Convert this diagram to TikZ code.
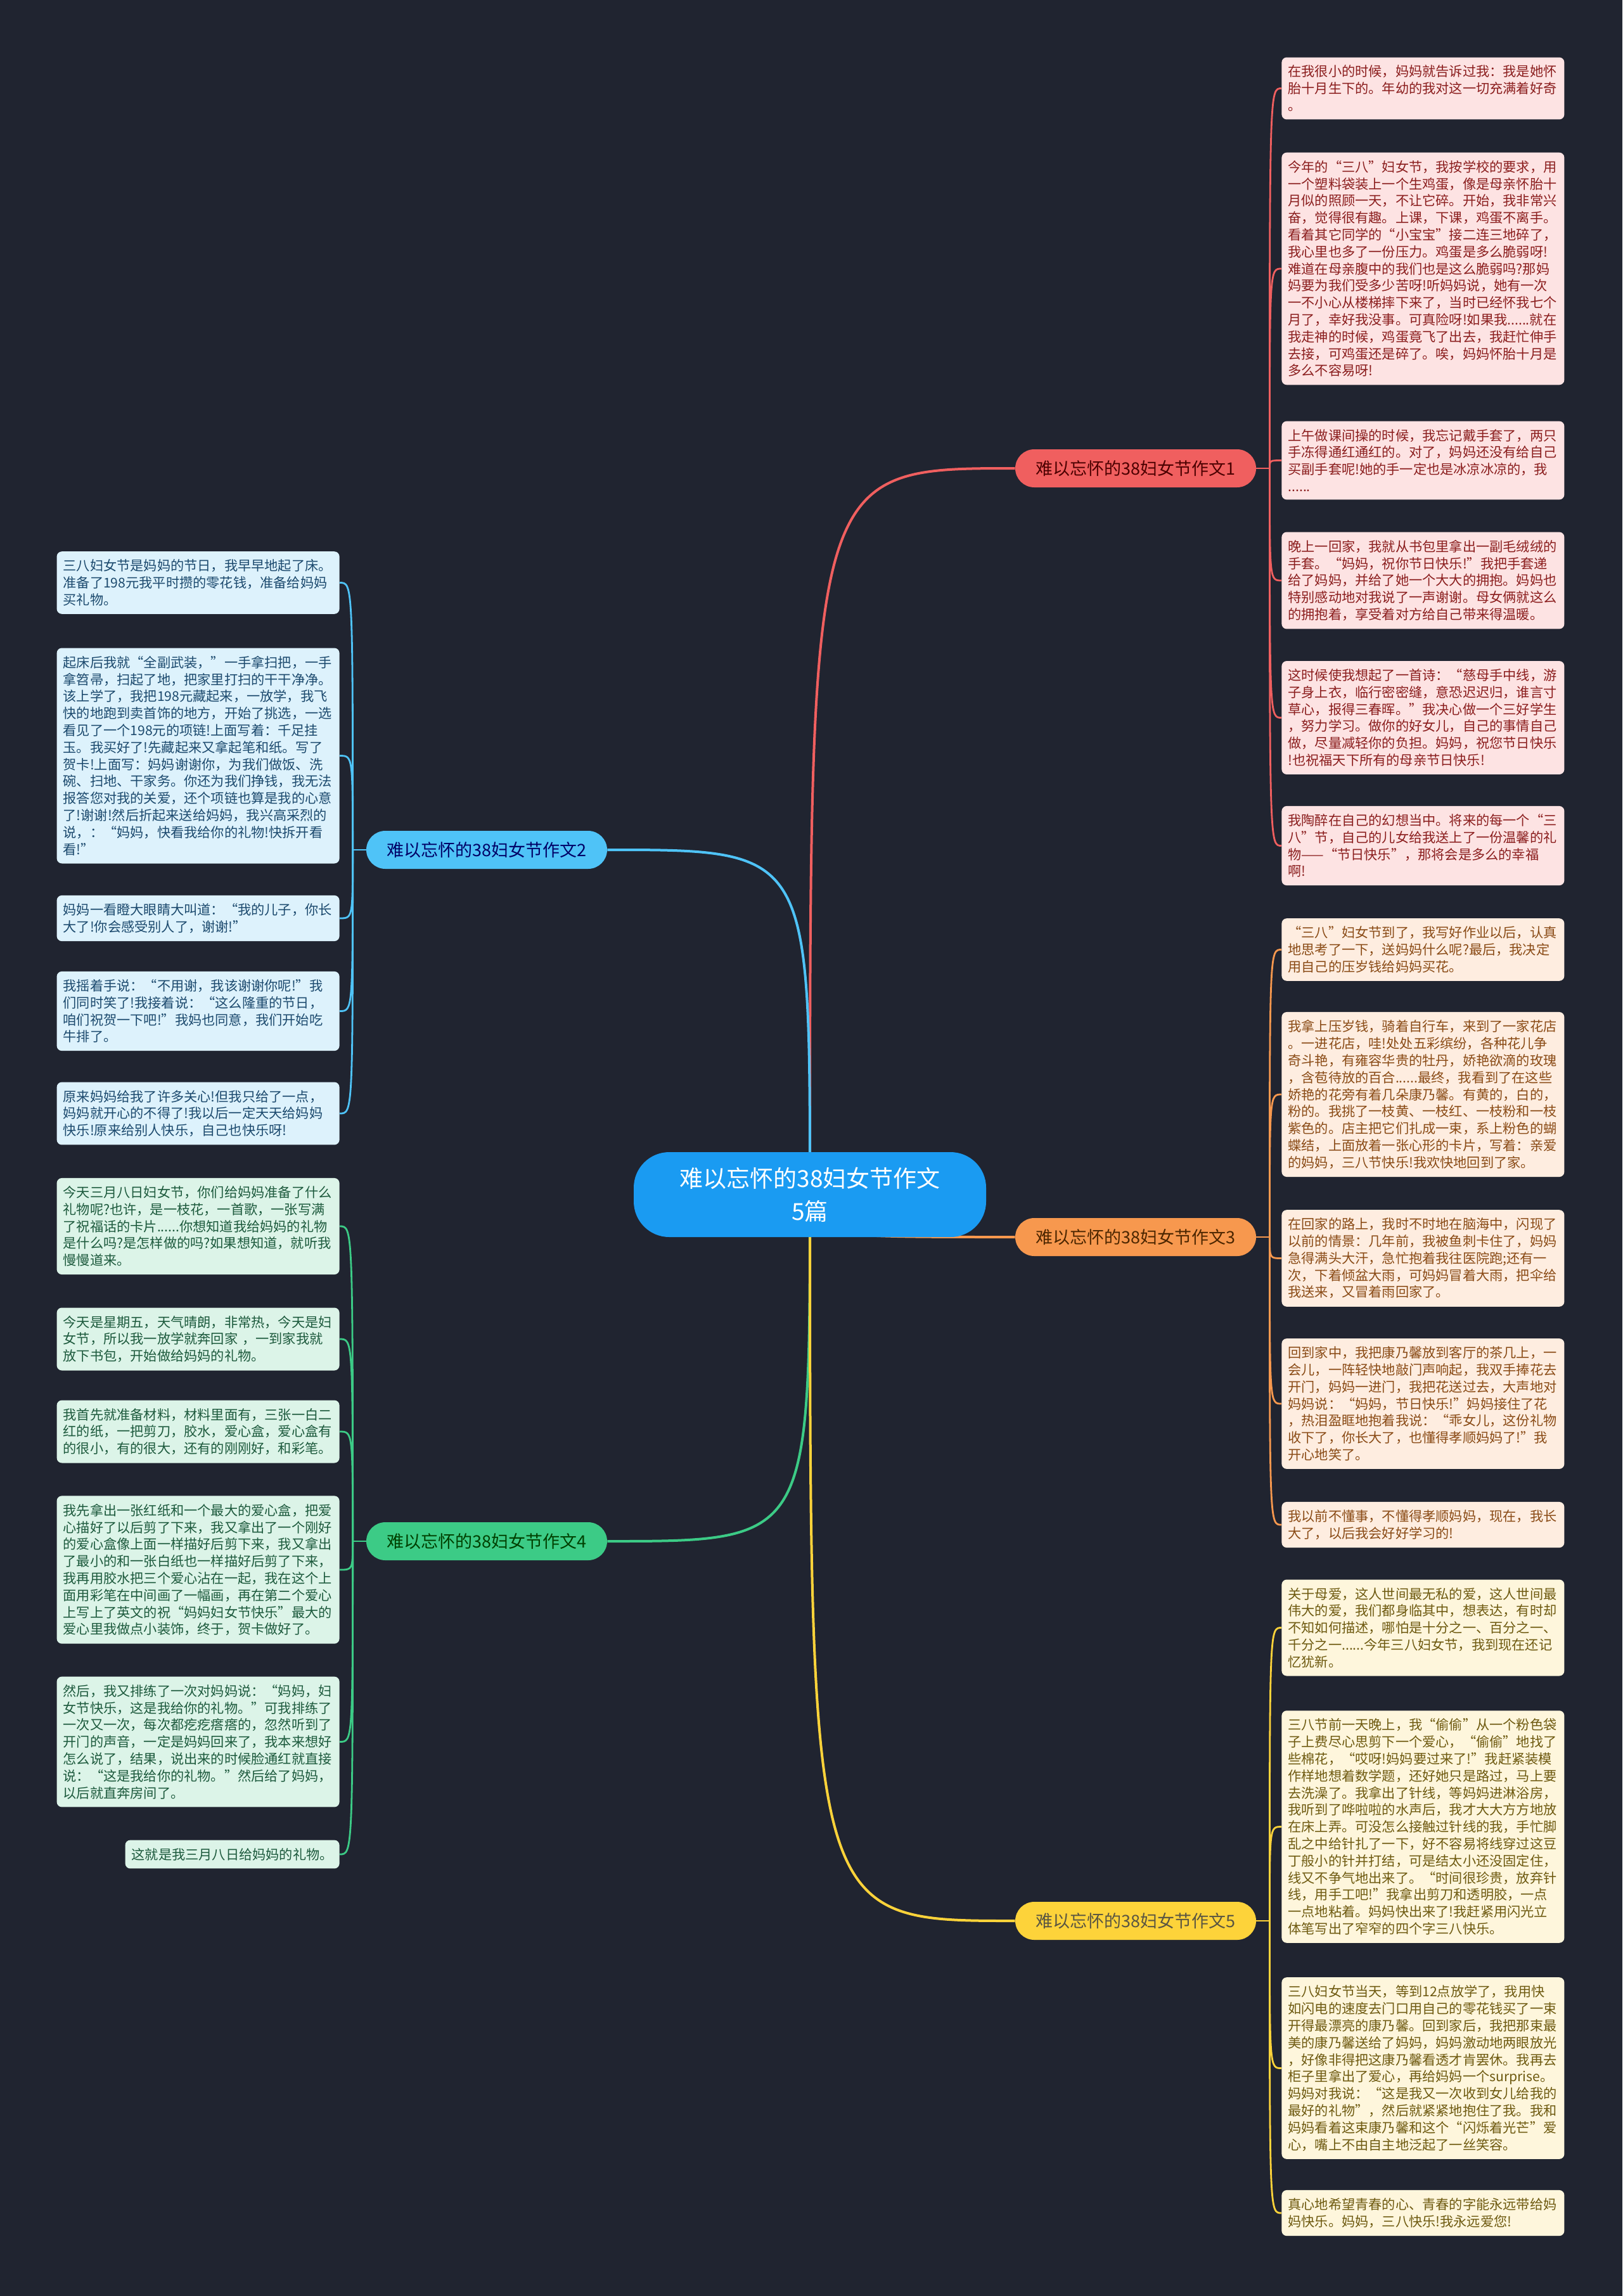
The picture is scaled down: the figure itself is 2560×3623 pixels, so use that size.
\documentclass[tikz,border=0pt]{standalone}
\usepackage{fontspec}
\setmainfont{Noto Sans CJK SC}
\usetikzlibrary{backgrounds}

\definecolor{bgdark}{HTML}{202430}
\definecolor{rootblue}{HTML}{1A9BF2}
\definecolor{redline}{HTML}{F05F5F}
\definecolor{blueline}{HTML}{4FC3F7}
\definecolor{orangeline}{HTML}{F7984E}
\definecolor{greenline}{HTML}{3CCB86}
\definecolor{yellowline}{HTML}{FDD33A}
\definecolor{redfill}{HTML}{FDE3E3}
\definecolor{redtext}{HTML}{8B1E1E}
\definecolor{bluefill}{HTML}{DDF2FC}
\definecolor{bluetext}{HTML}{1C4A6E}
\definecolor{orangefill}{HTML}{FEEDE0}
\definecolor{orangetext}{HTML}{8A4B16}
\definecolor{greenfill}{HTML}{DCF4E8}
\definecolor{greentext}{HTML}{1D5A3D}
\definecolor{yellowfill}{HTML}{FEF6DC}
\definecolor{yellowtext}{HTML}{6E5A10}

\tikzset{
  rootbox/.style={rectangle, rounded corners=28pt, fill=rootblue, text=white, align=center,
    minimum width=278pt, minimum height=67pt, font=\fontsize{18.5pt}{26pt}\selectfont},
  branchbox/.style={rectangle, rounded corners=15pt, minimum width=190pt, minimum height=30pt,
    inner sep=0pt, font=\fontsize{13.5pt}{16pt}\selectfont},
  leafshort/.style={rectangle, rounded corners=4pt, inner xsep=5pt, inner ysep=6.3pt,
    font=\fontsize{10.6pt}{13.4pt}\selectfont},
  leafbox/.style={leafshort, text width=213pt, align=left},
  redleaf/.style={fill=redfill, text=redtext},
  blueleaf/.style={fill=bluefill, text=bluetext},
  orangeleaf/.style={fill=orangefill, text=orangetext},
  greenleaf/.style={fill=greenfill, text=greentext},
  yellowleaf/.style={fill=yellowfill, text=yellowtext},
  trunk/.style={line width=2pt},
  twig/.style={line width=1.4pt}
}

\begin{document}
\begin{tikzpicture}[x=0.5pt, y=-0.5pt]
\useasboundingbox (0,0) rectangle (2560,3623);
\begin{pgfonlayer}{background}
\fill[bgdark] (0,0) rectangle (2560,3623);
\end{pgfonlayer}

% centre and branches
\node[rootbox] (root) at (1278,1885) {难以忘怀的38妇女节作文\\5篇};
\node[branchbox, fill=redline, text=red!30!black] (B1) at (1792,739) {难以忘怀的38妇女节作文1};
\node[branchbox, fill=blueline, text=blue!40!black] (B2) at (768,1341) {难以忘怀的38妇女节作文2};
\node[branchbox, fill=orangeline, text=orange!30!black] (B3) at (1792,1952) {难以忘怀的38妇女节作文3};
\node[branchbox, fill=greenline, text=green!25!black] (B4) at (768,2432) {难以忘怀的38妇女节作文4};
\node[branchbox, fill=yellowline, text=yellow!25!black] (B5) at (1792,3031) {难以忘怀的38妇女节作文5};

% branch 1
\node[leafbox, redleaf, anchor=west] (L1a) at (2022,139.5) {在我很小的时候，妈妈就告诉过我：我是她怀\\胎十月生下的。年幼的我对这一切充满着好奇\\。};
\node[leafbox, redleaf, anchor=west] (L1b) at (2022,424) {今年的“三八”妇女节，我按学校的要求，用\\一个塑料袋装上一个生鸡蛋，像是母亲怀胎十\\月似的照顾一天，不让它碎。开始，我非常兴\\奋，觉得很有趣。上课，下课，鸡蛋不离手。\\看着其它同学的“小宝宝”接二连三地碎了，\\我心里也多了一份压力。鸡蛋是多么脆弱呀!\\难道在母亲腹中的我们也是这么脆弱吗?那妈\\妈要为我们受多少苦呀!听妈妈说，她有一次\\一不小心从楼梯摔下来了，当时已经怀我七个\\月了，幸好我没事。可真险呀!如果我......就在\\我走神的时候，鸡蛋竟飞了出去，我赶忙伸手\\去接，可鸡蛋还是碎了。唉，妈妈怀胎十月是\\多么不容易呀!};
\node[leafbox, redleaf, anchor=west] (L1c) at (2022,726.5) {上午做课间操的时候，我忘记戴手套了，两只\\手冻得通红通红的。对了，妈妈还没有给自己\\买副手套呢!她的手一定也是冰凉冰凉的，我\\......};
\node[leafbox, redleaf, anchor=west] (L1d) at (2022,916) {晚上一回家，我就从书包里拿出一副毛绒绒的\\手套。“妈妈，祝你节日快乐!”我把手套递\\给了妈妈，并给了她一个大大的拥抱。妈妈也\\特别感动地对我说了一声谢谢。母女俩就这么\\的拥抱着，享受着对方给自己带来得温暖。};
\node[leafbox, redleaf, anchor=west] (L1e) at (2022,1132.5) {这时候使我想起了一首诗：“慈母手中线，游\\子身上衣，临行密密缝，意恐迟迟归，谁言寸\\草心，报得三春晖。”我决心做一个三好学生\\，努力学习。做你的好女儿，自己的事情自己\\做，尽量减轻你的负担。妈妈，祝您节日快乐\\!也祝福天下所有的母亲节日快乐!};
\node[leafbox, redleaf, anchor=west] (L1f) at (2022,1334.5) {我陶醉在自己的幻想当中。将来的每一个“三\\八”节，自己的儿女给我送上了一份温馨的礼\\物——“节日快乐”，那将会是多么的幸福\\啊!};

% branch 3
\node[leafbox, orangeleaf, anchor=west] (L3a) at (2022,1498.5) {“三八”妇女节到了，我写好作业以后，认真\\地思考了一下，送妈妈什么呢?最后，我决定\\用自己的压岁钱给妈妈买花。};
\node[leafbox, orangeleaf, anchor=west] (L3b) at (2022,1727) {我拿上压岁钱，骑着自行车，来到了一家花店\\。一进花店，哇!处处五彩缤纷，各种花儿争\\奇斗艳，有雍容华贵的牡丹，娇艳欲滴的玫瑰\\，含苞待放的百合......最终，我看到了在这些\\娇艳的花旁有着几朵康乃馨。有黄的，白的，\\粉的。我挑了一枝黄、一枝红、一枝粉和一枝\\紫色的。店主把它们扎成一束，系上粉色的蝴\\蝶结，上面放着一张心形的卡片，写着：亲爱\\的妈妈，三八节快乐!我欢快地回到了家。};
\node[leafbox, orangeleaf, anchor=west] (L3c) at (2022,1985.5) {在回家的路上，我时不时地在脑海中，闪现了\\以前的情景：几年前，我被鱼刺卡住了，妈妈\\急得满头大汗，急忙抱着我往医院跑;还有一\\次，下着倾盆大雨，可妈妈冒着大雨，把伞给\\我送来，又冒着雨回家了。};
\node[leafbox, orangeleaf, anchor=west] (L3d) at (2022,2215) {回到家中，我把康乃馨放到客厅的茶几上，一\\会儿，一阵轻快地敲门声响起，我双手捧花去\\开门，妈妈一进门，我把花送过去，大声地对\\妈妈说：“妈妈，节日快乐!”妈妈接住了花\\，热泪盈眶地抱着我说：“乖女儿，这份礼物\\收下了，你长大了，也懂得孝顺妈妈了!”我\\开心地笑了。};
\node[leafbox, orangeleaf, anchor=west] (L3e) at (2022,2406) {我以前不懂事，不懂得孝顺妈妈，现在，我长\\大了，以后我会好好学习的!};

% branch 5
\node[leafbox, yellowleaf, anchor=west] (L5a) at (2022,2568.5) {关于母爱，这人世间最无私的爱，这人世间最\\伟大的爱，我们都身临其中，想表达，有时却\\不知如何描述，哪怕是十分之一、百分之一、\\千分之一......今年三八妇女节，我到现在还记\\忆犹新。};
\node[leafbox, yellowleaf, anchor=west] (L5b) at (2022,2882.5) {三八节前一天晚上，我“偷偷”从一个粉色袋\\子上费尽心思剪下一个爱心，“偷偷”地找了\\些棉花，“哎呀!妈妈要过来了!”我赶紧装模\\作样地想着数学题，还好她只是路过，马上要\\去洗澡了。我拿出了针线，等妈妈进淋浴房，\\我听到了哗啦啦的水声后，我才大大方方地放\\在床上弄。可没怎么接触过针线的我，手忙脚\\乱之中给针扎了一下，好不容易将线穿过这豆\\丁般小的针并打结，可是结太小还没固定住，\\线又不争气地出来了。“时间很珍贵，放弃针\\线，用手工吧!”我拿出剪刀和透明胶，一点\\一点地粘着。妈妈快出来了!我赶紧用闪光立\\体笔写出了窄窄的四个字三八快乐。};
\node[leafbox, yellowleaf, anchor=west] (L5c) at (2022,3263.5) {三八妇女节当天，等到12点放学了，我用快\\如闪电的速度去门口用自己的零花钱买了一束\\开得最漂亮的康乃馨。回到家后，我把那束最\\美的康乃馨送给了妈妈，妈妈激动地两眼放光\\，好像非得把这康乃馨看透才肯罢休。我再去\\柜子里拿出了爱心，再给妈妈一个surprise。\\妈妈对我说：“这是我又一次收到女儿给我的\\最好的礼物”，然后就紧紧地抱住了我。我和\\妈妈看着这束康乃馨和这个“闪烁着光芒”爱\\心，嘴上不由自主地泛起了一丝笑容。};
\node[leafbox, yellowleaf, anchor=west] (L5d) at (2022,3492) {真心地希望青春的心、青春的字能永远带给妈\\妈快乐。妈妈，三八快乐!我永远爱您!};

% branch 2
\node[leafbox, blueleaf, anchor=east] (L2a) at (536,919.5) {三八妇女节是妈妈的节日，我早早地起了床。\\准备了198元我平时攒的零花钱，准备给妈妈\\买礼物。};
\node[leafbox, blueleaf, anchor=east] (L2b) at (536,1192.5) {起床后我就“全副武装，”一手拿扫把，一手\\拿笤帚，扫起了地，把家里打扫的干干净净。\\该上学了，我把198元藏起来，一放学，我飞\\快的地跑到卖首饰的地方，开始了挑选，一选\\看见了一个198元的项链!上面写着：千足挂\\玉。我买好了!先藏起来又拿起笔和纸。写了\\贺卡!上面写：妈妈谢谢你，为我们做饭、洗\\碗、扫地、干家务。你还为我们挣钱，我无法\\报答您对我的关爱，还个项链也算是我的心意\\了!谢谢!然后折起来送给妈妈，我兴高采烈的\\说，：“妈妈，快看我给你的礼物!快拆开看\\看!”};
\node[leafbox, blueleaf, anchor=east] (L2c) at (536,1449) {妈妈一看瞪大眼睛大叫道：“我的儿子，你长\\大了!你会感受别人了，谢谢!”};
\node[leafbox, blueleaf, anchor=east] (L2d) at (536,1595.5) {我摇着手说：“不用谢，我该谢谢你呢!”我\\们同时笑了!我接着说：“这么隆重的节日，\\咱们祝贺一下吧!”我妈也同意，我们开始吃\\牛排了。};
\node[leafbox, blueleaf, anchor=east] (L2e) at (536,1757) {原来妈妈给我了许多关心!但我只给了一点，\\妈妈就开心的不得了!我以后一定天天给妈妈\\快乐!原来给别人快乐，自己也快乐呀!};

% branch 4
\node[leafbox, greenleaf, anchor=east] (L4a) at (536,1935) {今天三月八日妇女节，你们给妈妈准备了什么\\礼物呢?也许，是一枝花，一首歌，一张写满\\了祝福话的卡片......你想知道我给妈妈的礼物\\是什么吗?是怎样做的吗?如果想知道，就听我\\慢慢道来。};
\node[leafbox, greenleaf, anchor=east] (L4b) at (536,2113) {今天是星期五，天气晴朗，非常热，今天是妇\\女节，所以我一放学就奔回家 ，一到家我就\\放下书包，开始做给妈妈的礼物。};
\node[leafbox, greenleaf, anchor=east] (L4c) at (536,2259) {我首先就准备材料，材料里面有，三张一白二\\红的纸，一把剪刀，胶水，爱心盒，爱心盒有\\的很小，有的很大，还有的刚刚好，和彩笔。};
\node[leafbox, greenleaf, anchor=east] (L4d) at (536,2477) {我先拿出一张红纸和一个最大的爱心盒，把爱\\心描好了以后剪了下来，我又拿出了一个刚好\\的爱心盒像上面一样描好后剪下来，我又拿出\\了最小的和一张白纸也一样描好后剪了下来，\\我再用胶水把三个爱心沾在一起，我在这个上\\面用彩笔在中间画了一幅画，再在第二个爱心\\上写上了英文的祝“妈妈妇女节快乐”最大的\\爱心里我做点小装饰，终于，贺卡做好了。};
\node[leafbox, greenleaf, anchor=east] (L4e) at (536,2748.5) {然后，我又排练了一次对妈妈说：“妈妈，妇\\女节快乐，这是我给你的礼物。”可我排练了\\一次又一次，每次都疙疙瘩瘩的，忽然听到了\\开门的声音，一定是妈妈回来了，我本来想好\\怎么说了，结果，说出来的时候脸通红就直接\\说：“这是我给你的礼物。”然后给了妈妈，\\以后就直奔房间了。};
\node[leafshort, greenleaf, anchor=east] (L4f) at (536,2926) {这就是我三月八日给妈妈的礼物。};

% connectors
\begin{pgfonlayer}{background}
\draw[trunk, redline] (root.center) .. controls (root.center |- B1.west) and (root.center |- B1.west) .. (B1.west);
\draw[trunk, blueline] (root.center) .. controls (root.center |- B2.east) and (root.center |- B2.east) .. (B2.east);
\draw[trunk, orangeline] (root.center) .. controls (root.center |- B3.west) and (root.center |- B3.west) .. (B3.west);
\draw[trunk, greenline] (root.center) .. controls (root.center |- B4.east) and (root.center |- B4.east) .. (B4.east);
\draw[trunk, yellowline] (root.center) .. controls (root.center |- B5.west) and (root.center |- B5.west) .. (B5.west);

\draw[twig, redline] (B1.east) -- ++(21,0) coordinate (J1);
\foreach \leaf in {L1a,L1b,L1c,L1d,L1e,L1f}
  \draw[twig, redline] (J1) .. controls (J1 |- \leaf.west) .. (\leaf.west);
\draw[twig, orangeline] (B3.east) -- ++(21,0) coordinate (J3);
\foreach \leaf in {L3a,L3b,L3c,L3d,L3e}
  \draw[twig, orangeline] (J3) .. controls (J3 |- \leaf.west) .. (\leaf.west);
\draw[twig, yellowline] (B5.east) -- ++(21,0) coordinate (J5);
\foreach \leaf in {L5a,L5b,L5c,L5d}
  \draw[twig, yellowline] (J5) .. controls (J5 |- \leaf.west) .. (\leaf.west);
\draw[twig, blueline] (B2.west) -- ++(-21,0) coordinate (J2);
\foreach \leaf in {L2a,L2b,L2c,L2d,L2e}
  \draw[twig, blueline] (J2) .. controls (J2 |- \leaf.east) .. (\leaf.east);
\draw[twig, greenline] (B4.west) -- ++(-21,0) coordinate (J4);
\foreach \leaf in {L4a,L4b,L4c,L4d,L4e,L4f}
  \draw[twig, greenline] (J4) .. controls (J4 |- \leaf.east) .. (\leaf.east);
\end{pgfonlayer}
\end{tikzpicture}
\end{document}
